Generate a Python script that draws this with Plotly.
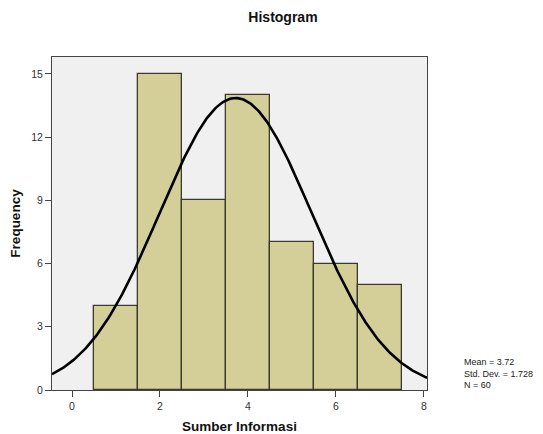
import numpy as np
import plotly.graph_objects as go

categories = [1, 2, 3, 4, 5, 6, 7]
frequency = [4, 15, 9, 14, 7, 6, 5]
mean_val = 3.72
std_val = 1.728
n_val = 60
x_ticks = [0, 2, 4, 6, 8]
y_ticks = [0, 3, 6, 9, 12, 15]
stats_lines = [f"Mean = {mean_val}", f"Std. Dev. = {std_val}", f"N = {n_val}"]

W, H = 535, 426
ML, MR, MT, MB = 44, 116, 49, 44

fig = go.Figure()
fig.add_trace(go.Bar(
    x=categories, y=frequency, width=1.0,
    marker=dict(color="#d4cf98", line=dict(color="#3c3a2a", width=1.3)),
    showlegend=False, hoverinfo="skip"))

xs = np.linspace(-0.455, 8.07, 300)
ys = n_val * 1.0 / (std_val * np.sqrt(2 * np.pi)) * np.exp(-0.5 * ((xs - mean_val) / std_val) ** 2)
fig.add_trace(go.Scatter(x=xs, y=ys, mode="lines",
                         line=dict(color="black", width=2.6),
                         showlegend=False, hoverinfo="skip"))

font = "Liberation Sans, Arial, sans-serif"
pw, ph = W - ML - MR, H - MT - MB
annots = [dict(text="<br>".join(stats_lines), xref="paper", yref="paper",
               x=(454 - ML) / pw, y=(H - MB - 365) / ph,
               xanchor="left", yanchor="middle", align="left", showarrow=False,
               font=dict(size=9, color="#222", family=font))]

fig.update_layout(
    width=W, height=H,
    margin=dict(l=ML, r=MR, t=MT, b=MB, autoexpand=False),
    paper_bgcolor="white", plot_bgcolor="#f0f0f0",
    font=dict(family=font, color="#222", size=10.5),
    title=dict(text="<b>Histogram</b>", x=0.514, xanchor="center", y=0.979, yanchor="middle",
               font=dict(size=14, color="#111", family=font)),
    bargap=0,
    xaxis=dict(range=[-0.455, 8.07], tickvals=x_ticks, ticks="outside", ticklen=6,
               tickcolor="#444", showgrid=False, zeroline=False, automargin=False,
               showline=True, linecolor="#444", linewidth=1, mirror=True,
               title=dict(text="<b>Sumber Informasi</b>", font=dict(size=13.5, color="#111"), standoff=10),
               tickfont=dict(size=10.5, color="#333")),
    yaxis=dict(range=[0, 15.8], tickvals=y_ticks, ticks="outside", ticklen=6,
               tickcolor="#444", showgrid=False, zeroline=False, automargin=False,
               showline=True, linecolor="#444", linewidth=1, mirror=True,
               title=dict(text="<b>Frequency</b>", font=dict(size=13.5, color="#111"), standoff=9),
               tickfont=dict(size=10.5, color="#333")),
    annotations=annots,
)
fig.write_html("out.html")
